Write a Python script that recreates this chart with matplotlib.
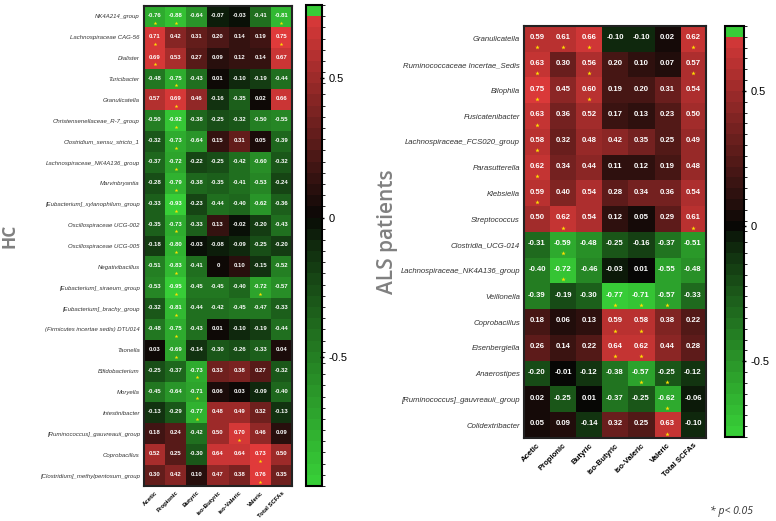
import numpy as np
import matplotlib
matplotlib.use("Agg")
import matplotlib.pyplot as plt
from matplotlib.colors import ListedColormap, BoundaryNorm
from matplotlib.cm import ScalarMappable

scfa = ["Acetic", "Propionic", "Butyric", "iso-Butyric", "iso-Valeric", "Valeric", "Total SCFAs"]

hc_taxa = ["NK4A214_group", "Lachnospiraceae CAG-56", "Dialister", "Turicibacter", "Granulicatella",
           "Christensenellaceae_R-7_group", "Clostridium_sensu_stricto_1", "Lachnospiraceae_NK4A136_group",
           "Marvinbryantia", "[Eubacterium]_xylanophilum_group", "Oscillospiraceae UCG-002",
           "Oscillospiraceae UCG-005", "Negativibacillus", "[Eubacterium]_siraeum_group",
           "[Eubacterium]_brachy_group", "(Firmicutes incertae sedis) DTU014", "Taonella",
           "Bifidobacterium", "Moryella", "Intestinibacter", "[Ruminococcus]_gauvreauii_group",
           "Coprobacillus", "[Clostridium]_methylpentosum_group"]
hc_values = [
    [-0.76, -0.88, -0.64, -0.07, -0.03, -0.41, -0.81],
    [0.71, 0.42, 0.31, 0.20, 0.14, 0.19, 0.75],
    [0.69, 0.53, 0.27, 0.09, 0.12, 0.14, 0.67],
    [-0.48, -0.75, -0.43, 0.01, -0.10, -0.19, -0.44],
    [0.57, 0.69, 0.46, -0.16, -0.35, 0.02, 0.66],
    [-0.50, -0.92, -0.38, -0.25, -0.32, -0.50, -0.55],
    [-0.32, -0.73, -0.64, 0.15, 0.31, 0.05, -0.39],
    [-0.37, -0.72, -0.22, -0.25, -0.42, -0.60, -0.32],
    [-0.28, -0.79, -0.38, -0.35, -0.41, -0.53, -0.24],
    [-0.33, -0.93, -0.23, -0.44, -0.40, -0.62, -0.36],
    [-0.35, -0.73, -0.33, 0.13, -0.02, -0.20, -0.43],
    [-0.18, -0.80, -0.03, -0.08, -0.09, -0.25, -0.20],
    [-0.51, -0.83, -0.41, 0.00, 0.10, -0.15, -0.52],
    [-0.53, -0.95, -0.45, -0.45, -0.40, -0.72, -0.57],
    [-0.32, -0.81, -0.44, -0.42, -0.45, -0.47, -0.33],
    [-0.48, -0.75, -0.43, 0.01, -0.10, -0.19, -0.44],
    [0.03, -0.69, -0.14, -0.30, -0.26, -0.33, 0.04],
    [-0.25, -0.37, -0.73, 0.33, 0.38, 0.27, -0.32],
    [-0.45, -0.64, -0.71, 0.06, 0.03, -0.09, -0.40],
    [-0.13, -0.29, -0.77, 0.48, 0.49, 0.32, -0.13],
    [0.18, 0.24, -0.42, 0.50, 0.70, 0.46, 0.09],
    [0.52, 0.25, -0.30, 0.64, 0.64, 0.73, 0.50],
    [0.30, 0.42, 0.10, 0.47, 0.38, 0.76, 0.35],
]
hc_sig = [
    [1, 1, 0, 0, 0, 0, 1],
    [1, 0, 0, 0, 0, 0, 1],
    [1, 0, 0, 0, 0, 0, 0],
    [0, 1, 0, 0, 0, 0, 0],
    [0, 1, 0, 0, 0, 0, 0],
    [0, 1, 0, 0, 0, 0, 0],
    [0, 1, 0, 0, 0, 0, 0],
    [0, 1, 0, 0, 0, 0, 0],
    [0, 1, 0, 0, 0, 0, 0],
    [0, 1, 0, 0, 0, 0, 0],
    [0, 1, 0, 0, 0, 0, 0],
    [0, 1, 0, 0, 0, 0, 0],
    [0, 1, 0, 0, 0, 0, 0],
    [0, 1, 0, 0, 0, 1, 0],
    [0, 1, 0, 0, 0, 0, 0],
    [0, 1, 0, 0, 0, 0, 0],
    [0, 1, 0, 0, 0, 0, 0],
    [0, 0, 1, 0, 0, 0, 0],
    [0, 0, 1, 0, 0, 0, 0],
    [0, 0, 1, 0, 0, 0, 0],
    [0, 0, 0, 0, 1, 0, 0],
    [0, 0, 0, 0, 0, 1, 0],
    [0, 0, 0, 0, 0, 1, 0],
]

als_taxa = ["Granulicatella", "Ruminococcaceae Incertae_Sedis", "Bilophila", "Fusicatenibacter",
            "Lachnospiraceae_FCS020_group", "Parasutterella", "Klebsiella", "Streptococcus",
            "Clostridia_UCG-014", "Lachnospiraceae_NK4A136_group", "Veillonella", "Coprobacillus",
            "Eisenbergiella", "Anaerostipes", "[Ruminococcus]_gauvreauii_group", "Colidextribacter"]
als_values = [
    [0.59, 0.61, 0.66, -0.10, -0.10, 0.02, 0.62],
    [0.63, 0.30, 0.56, 0.20, 0.10, 0.07, 0.57],
    [0.75, 0.45, 0.60, 0.19, 0.20, 0.31, 0.54],
    [0.63, 0.36, 0.52, 0.17, 0.13, 0.23, 0.50],
    [0.58, 0.32, 0.48, 0.42, 0.35, 0.25, 0.49],
    [0.62, 0.34, 0.44, 0.11, 0.12, 0.19, 0.48],
    [0.59, 0.40, 0.54, 0.28, 0.34, 0.36, 0.54],
    [0.50, 0.62, 0.54, 0.12, 0.05, 0.29, 0.61],
    [-0.31, -0.59, -0.48, -0.25, -0.16, -0.37, -0.51],
    [-0.40, -0.72, -0.46, -0.03, 0.01, -0.55, -0.48],
    [-0.39, -0.19, -0.30, -0.77, -0.71, -0.57, -0.33],
    [0.18, 0.06, 0.13, 0.59, 0.58, 0.38, 0.22],
    [0.26, 0.14, 0.22, 0.64, 0.62, 0.44, 0.28],
    [-0.20, -0.01, -0.12, -0.38, -0.57, -0.25, -0.12],
    [0.02, -0.25, 0.01, -0.37, -0.25, -0.62, -0.06],
    [0.05, 0.09, -0.14, 0.32, 0.25, 0.63, -0.10],
]
als_sig = [
    [1, 1, 1, 0, 0, 0, 1],
    [1, 0, 1, 0, 0, 0, 1],
    [1, 0, 1, 0, 0, 0, 0],
    [1, 0, 0, 0, 0, 0, 0],
    [1, 0, 0, 0, 0, 0, 0],
    [1, 0, 0, 0, 0, 0, 0],
    [1, 0, 0, 0, 0, 0, 0],
    [0, 1, 0, 0, 0, 0, 1],
    [0, 1, 0, 0, 0, 0, 0],
    [0, 1, 0, 0, 0, 0, 0],
    [0, 0, 0, 1, 1, 1, 0],
    [0, 0, 0, 1, 1, 0, 0],
    [0, 0, 0, 1, 1, 0, 0],
    [0, 0, 0, 0, 1, 1, 0],
    [0, 0, 0, 0, 0, 1, 0],
    [0, 0, 0, 0, 0, 1, 0],
]

RED = np.array([0.88, 0.23, 0.23])
GREEN = np.array([0.22, 0.82, 0.22])
DARK = np.array([0.03, 0.03, 0.02])


def make_cmaps(lo, hi, step=0.04):
    bounds = np.round(np.arange(lo, hi + step / 2, step), 3)
    mids = (bounds[:-1] + bounds[1:]) / 2
    cols = []
    for m in mids:
        if m >= 0:
            t = min(m / 0.74, 1) ** 0.95
            cols.append(DARK + t * (RED - DARK))
        else:
            t = min(m / lo, 1) ** 0.8
            cols.append(DARK + t * (GREEN - DARK))
    heat = ListedColormap(cols)
    heat.set_over(cols[-1])
    heat.set_under(cols[0])
    bar_cols = list(cols)
    bar_cols[-1] = np.array([0.22, 0.80, 0.22])
    bar = ListedColormap(bar_cols)
    norm = BoundaryNorm(bounds, len(cols))
    return heat, bar, norm


def draw(ax, cax, taxa, values, sig, lo, hi, vfs, lfs, xfs, star_off, star_s):
    heat, bar, norm = make_cmaps(lo, hi)
    arr = np.array(values)
    ax.imshow(arr, cmap=heat, norm=norm, aspect="auto", interpolation="nearest")
    for i in range(arr.shape[0]):
        for j in range(arr.shape[1]):
            v = arr[i, j]
            lab = "0" if v == 0 else f"{v:.2f}"
            ax.text(j, i - 0.05, lab, ha="center", va="center", color="white",
                    fontsize=vfs, fontweight="bold", family="Liberation Sans")
            if sig[i][j]:
                ax.scatter(j, i + star_off, marker="*", s=star_s, color="#FFE000", linewidths=0, zorder=3)
    ax.set_xticks(range(len(scfa)))
    ax.set_xticklabels(scfa, rotation=45, ha="right", rotation_mode="anchor",
                       fontsize=xfs, fontweight="bold", family="Liberation Sans")
    ax.set_yticks(range(len(taxa)))
    ax.set_yticklabels(taxa, fontsize=lfs, style="italic", family="Liberation Sans", color="#333333")
    ax.tick_params(length=0, pad=3)
    ax.set_xlim(-0.5, arr.shape[1] - 0.5)
    ax.set_ylim(arr.shape[0] - 0.5, -0.5)
    for s in ax.spines.values():
        s.set_linewidth(1.5)
        s.set_color("#222222")
    cb = plt.colorbar(ScalarMappable(norm=norm, cmap=bar), cax=cax, ticks=[-0.5, 0, 0.5])
    cb.ax.set_yticklabels(["-0.5", "0", "0.5"], fontsize=8, family="Liberation Sans")
    cb.outline.set_linewidth(1.5)
    cb.ax.tick_params(length=3, width=1, direction="inout")
    return cb


fig = plt.figure(figsize=(7.76, 5.21), dpi=100)
W, H = 776, 521


def frac(x0, y0, x1, y1):
    return [x0 / W, 1 - y1 / H, (x1 - x0) / W, (y1 - y0) / H]


ax1 = fig.add_axes(frac(144, 6, 292, 486))
cax1 = fig.add_axes(frac(306, 5, 322, 486))
ax2 = fig.add_axes(frac(524, 26, 706, 438))
cax2 = fig.add_axes(frac(725, 26, 744, 437))

draw(ax1, cax1, hc_taxa, hc_values, hc_sig, -0.96, 0.76, 4.3, 4.3, 4.3, 0.3, 8)
draw(ax2, cax2, als_taxa, als_values, als_sig, -0.78, 0.74, 5.6, 5.6, 5.6, 0.33, 11)

fig.text(9 / W, 1 - 236 / H, "HC", rotation=90, ha="center", va="center", fontsize=12.5,
         fontweight="bold", color="#808080", family="Open Sans")
fig.text(388 / W, 1 - 232 / H, "ALS patients", rotation=90, ha="center", va="center", fontsize=15,
         fontweight="semibold", color="#808080", family="Open Sans")
fig.text(753 / W, 1 - 511 / H, "* p< 0.05", ha="right", va="center", fontsize=7.5,
         style="italic", color="#333333", family="Open Sans")

fig.savefig("out.png", dpi=100)
